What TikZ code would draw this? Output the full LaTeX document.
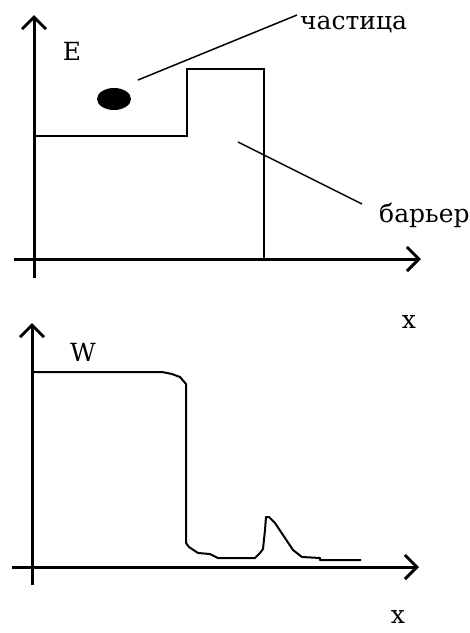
\documentclass[tikz,border=0pt]{standalone}
\usepackage{fontspec}
\newfontfamily\plotfont{DejaVu Serif}
\usetikzlibrary{arrows.meta,shapes.geometric}
\tikzset{
  axis/.style={line width=3pt,-{Straight Barb[length=12pt,width=24pt]}},
  wall/.style={line width=2pt,line join=miter},
  leader/.style={line width=1.5pt},
  curve/.style={line width=2pt,line join=round},
  lbl/.style={font=\plotfont\fontsize{25}{25}\selectfont,inner sep=0pt},
  ball/.style={ellipse,fill=black,minimum width=34pt,minimum height=22pt,inner sep=0pt}
}
\begin{document}
\begin{tikzpicture}[x=1pt,y=-1pt]
  \fill[white] (0,0) rectangle (470,633);
  \useasboundingbox (0,0) rectangle (470,633);

  % upper plot: particle and barrier
  \coordinate (ybot1) at (34,278);
  \coordinate (ytop1) at (34,15);
  \coordinate (xleft1) at (14,259);
  \coordinate (xright1) at (421,259);
  \draw[axis] (ybot1) -- (ytop1);
  \draw[axis] (xleft1) -- (xright1);
  \draw[wall] (34,136) -- (187,136) -- (187,69) -- (264,69) -- (264,259);

  \node[lbl] (energy) at (72,51) {E};
  \node[ball] (ball) at (114,99) {};
  \node[lbl,anchor=west] (particle) at (300,25) {частица};
  \node[lbl,anchor=west] (barrier) at (379,215) {барьер};
  \coordinate (balltip) at (138,80);
  \coordinate (partend) at (297,15);
  \coordinate (walltip) at (238,142);
  \coordinate (barend) at (362,204);
  \draw[leader] (balltip) -- (partend);
  \draw[leader] (walltip) -- (barend);
  \node[lbl] (xtop) at (409,322) {x};

  % lower plot: probability
  \coordinate (ybot2) at (32,585);
  \coordinate (ytop2) at (32,323);
  \coordinate (xleft2) at (12,567);
  \coordinate (xright2) at (419,567);
  \draw[axis] (ybot2) -- (ytop2);
  \draw[axis] (xleft2) -- (xright2);
  \node[lbl] (prob) at (83,352) {W};
  \draw[curve] (34,372) -- (162,372) -- (172,374) -- (180,377) -- (186,384)
    -- (186,543) -- (189,547) -- (198,553) -- (210,554) -- (218,558)
    -- (255,558) -- (260,553) -- (263,549) -- (265,530) -- (266,517)
    -- (269,517) -- (275,523) -- (283,535) -- (293,550) -- (302,557)
    -- (320,558) -- (320,560) -- (361,560);
  \node[lbl] (xbot) at (398,617) {x};
\end{tikzpicture}
\end{document}
